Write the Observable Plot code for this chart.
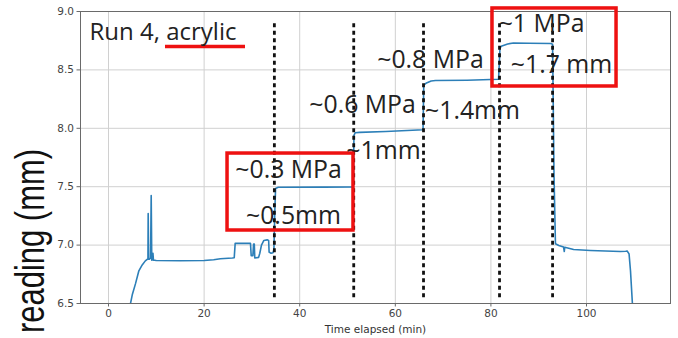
<!DOCTYPE html>
<html>
<head>
<meta charset="utf-8">
<script src="https://cdn.jsdelivr.net/npm/d3@7"></script>
<script src="https://cdn.jsdelivr.net/npm/@observablehq/plot@0.6"></script>
<style>
  html, body { margin: 0; padding: 0; background: #fff; }
  #chart svg { display: block; }
</style>
</head>
<body>
<div id="chart"></div>
<script>
// ---- data ----
const timeMin = [4.6, 5.0, 5.65, 6.35, 7.05, 7.7, 8.1, 8.25, 8.3, 8.4, 8.6, 8.8, 8.93, 9.05, 9.2, 9.3, 9.4, 9.6,
  10, 15, 20, 22, 23.4, 25.9, 26.3, 26.5, 29.7, 29.85, 30.2, 30.35, 30.5, 30.6, 31.4, 31.65, 32.0, 32.5, 33.2, 33.5,
  33.6, 34.0, 34.4, 34.6, 34.8, 34.95, 35.5, 45, 51.2, 51.35, 51.6, 52.5, 58, 65.8, 65.95, 66.4, 67.5, 68.4, 75, 81.6,
  81.9, 82.3, 83.5, 84.7, 88, 92.5, 92.9, 93.2, 93.5, 94.2, 95.2, 95.35, 95.45, 97.3, 100.8, 107.1, 108.2, 108.5,
  108.9, 109.2, 109.6];
const readingMm = [6.5, 6.58, 6.67, 6.78, 6.83, 6.865, 6.878, 6.88, 7.27, 6.88, 6.88, 6.89, 7.425, 6.87, 6.88, 6.93, 6.87, 6.87,
  6.868, 6.866, 6.868, 6.875, 6.883, 6.89, 6.892, 7.015, 7.015, 6.91, 6.91, 7.01, 7.01, 6.89, 6.895, 6.93, 7.0, 7.04, 7.045, 7.04,
  6.94, 6.93, 6.935, 6.96, 7.3, 7.485, 7.495, 7.496, 7.497, 7.94, 7.962, 7.965, 7.972, 7.987, 8.37, 8.385, 8.405, 8.409, 8.412, 8.42,
  8.69, 8.705, 8.722, 8.73, 8.728, 8.726, 8.72, 7.6, 7.011, 6.996, 6.983, 6.945, 6.982, 6.962, 6.954, 6.945, 6.948, 6.95,
  6.925, 6.78, 6.5];

const stepTimes = [34.7, 51.3, 65.9, 81.8, 92.9];       // pressure changes (dashed lines)
const xTicks = [0, 20, 40, 60, 80, 100];
const yTicks = [6.5, 7.0, 7.5, 8.0, 8.5, 9.0];

const noteText = ["~0.3 MPa", "~0.5mm", "~0.6 MPa", "~1mm", "~0.8 MPa", "~1.4mm", "~1 MPa", "~1.7 mm"];
const noteTime = [37.66, 38.70, 53.14, 57.53, 67.36, 76.15, 90.59, 94.77];
const noteReading = [7.642, 7.248, 8.199, 7.805, 8.584, 8.147, 8.892, 8.541];

const titleText = "Run 4, acrylic";
const boxTime1 = [24.9, 80.33], boxTime2 = [51.25, 106.28];
const boxReading1 = [7.125, 8.358], boxReading2 = [7.784, 9.026];

// ---- build ----
const series = timeMin.map((t, i) => ({t, v: readingMm[i]}));
const notes = noteText.map((s, i) => ({s, t: noteTime[i], v: noteReading[i]}));
const boxes = boxTime1.map((t1, i) => ({t1, t2: boxTime2[i], v1: boxReading1[i], v2: boxReading2[i]}));
const red = "#ee1111";

const chart = Plot.plot({
  width: 678,
  height: 338,
  marginLeft: 80,
  marginRight: 8,
  marginTop: 11,
  marginBottom: 35,
  x: {domain: [-5.86, 117.57], label: null},
  y: {domain: [6.5, 9.0], label: null},
  style: {fontFamily: "DejaVu Sans", fontSize: "10.5px", color: "#444", background: "#fff"},
  marks: [
    Plot.gridX(xTicks, {stroke: "#d0d0d0", strokeOpacity: 1}),
    Plot.gridY(yTicks, {stroke: "#d0d0d0", strokeOpacity: 1}),
    Plot.frame({stroke: "#6a6a6a"}),
    Plot.axisX(xTicks, {tickSize: 3.5, tickPadding: 3, stroke: "#6a6a6a", fill: "#444", tickFormat: d3.format("d")}),
    Plot.axisY(yTicks, {tickSize: 3.5, tickPadding: 3, stroke: "#6a6a6a", fill: "#444", tickFormat: d3.format(".1f")}),
    Plot.text(["Time elapsed (min)"], {frameAnchor: "bottom", lineAnchor: "middle", dy: 26.6, fill: "#333", fontSize: 10.5}),
    Plot.line(series, {x: "t", y: "v", stroke: "#2c7fb8", strokeWidth: 1.6, clip: true}),
    Plot.ruleX(stepTimes, {y1: 6.55, y2: 8.906, stroke: "#111", strokeWidth: 2.8, strokeDasharray: "4,3.5"}),
    Plot.rect(boxes, {x1: "t1", x2: "t2", y1: "v1", y2: "v2", fill: "none", stroke: red, strokeWidth: 3.5}),
    Plot.ruleY([8.70], {x1: 11.92, x2: 28.66, stroke: red, strokeWidth: 3.5}),
    Plot.text([titleText], {x: -3.97, y: 8.824, textAnchor: "start", lineAnchor: "middle", fontSize: 24, fill: "#222", fontFamily: "Open Sans"}),
    Plot.text(notes, {x: "t", y: "v", text: "s", lineAnchor: "middle", fontSize: 24.8, fill: "#222", fontFamily: "Open Sans"}),
    Plot.text(["reading (mm)"], {frameAnchor: "left", rotate: -90, textAnchor: "start", lineAnchor: "middle", dx: -49.4, dy: 175.5, fontSize: 41, fill: "#111", fontFamily: "Liberation Sans"})
  ]
});

document.getElementById("chart").append(chart);
d3.select(chart).selectAll("text").filter(function () { return this.textContent === "reading (mm)"; })
  .attr("textLength", 184).attr("lengthAdjust", "spacingAndGlyphs");
</script>
</body>
</html>
